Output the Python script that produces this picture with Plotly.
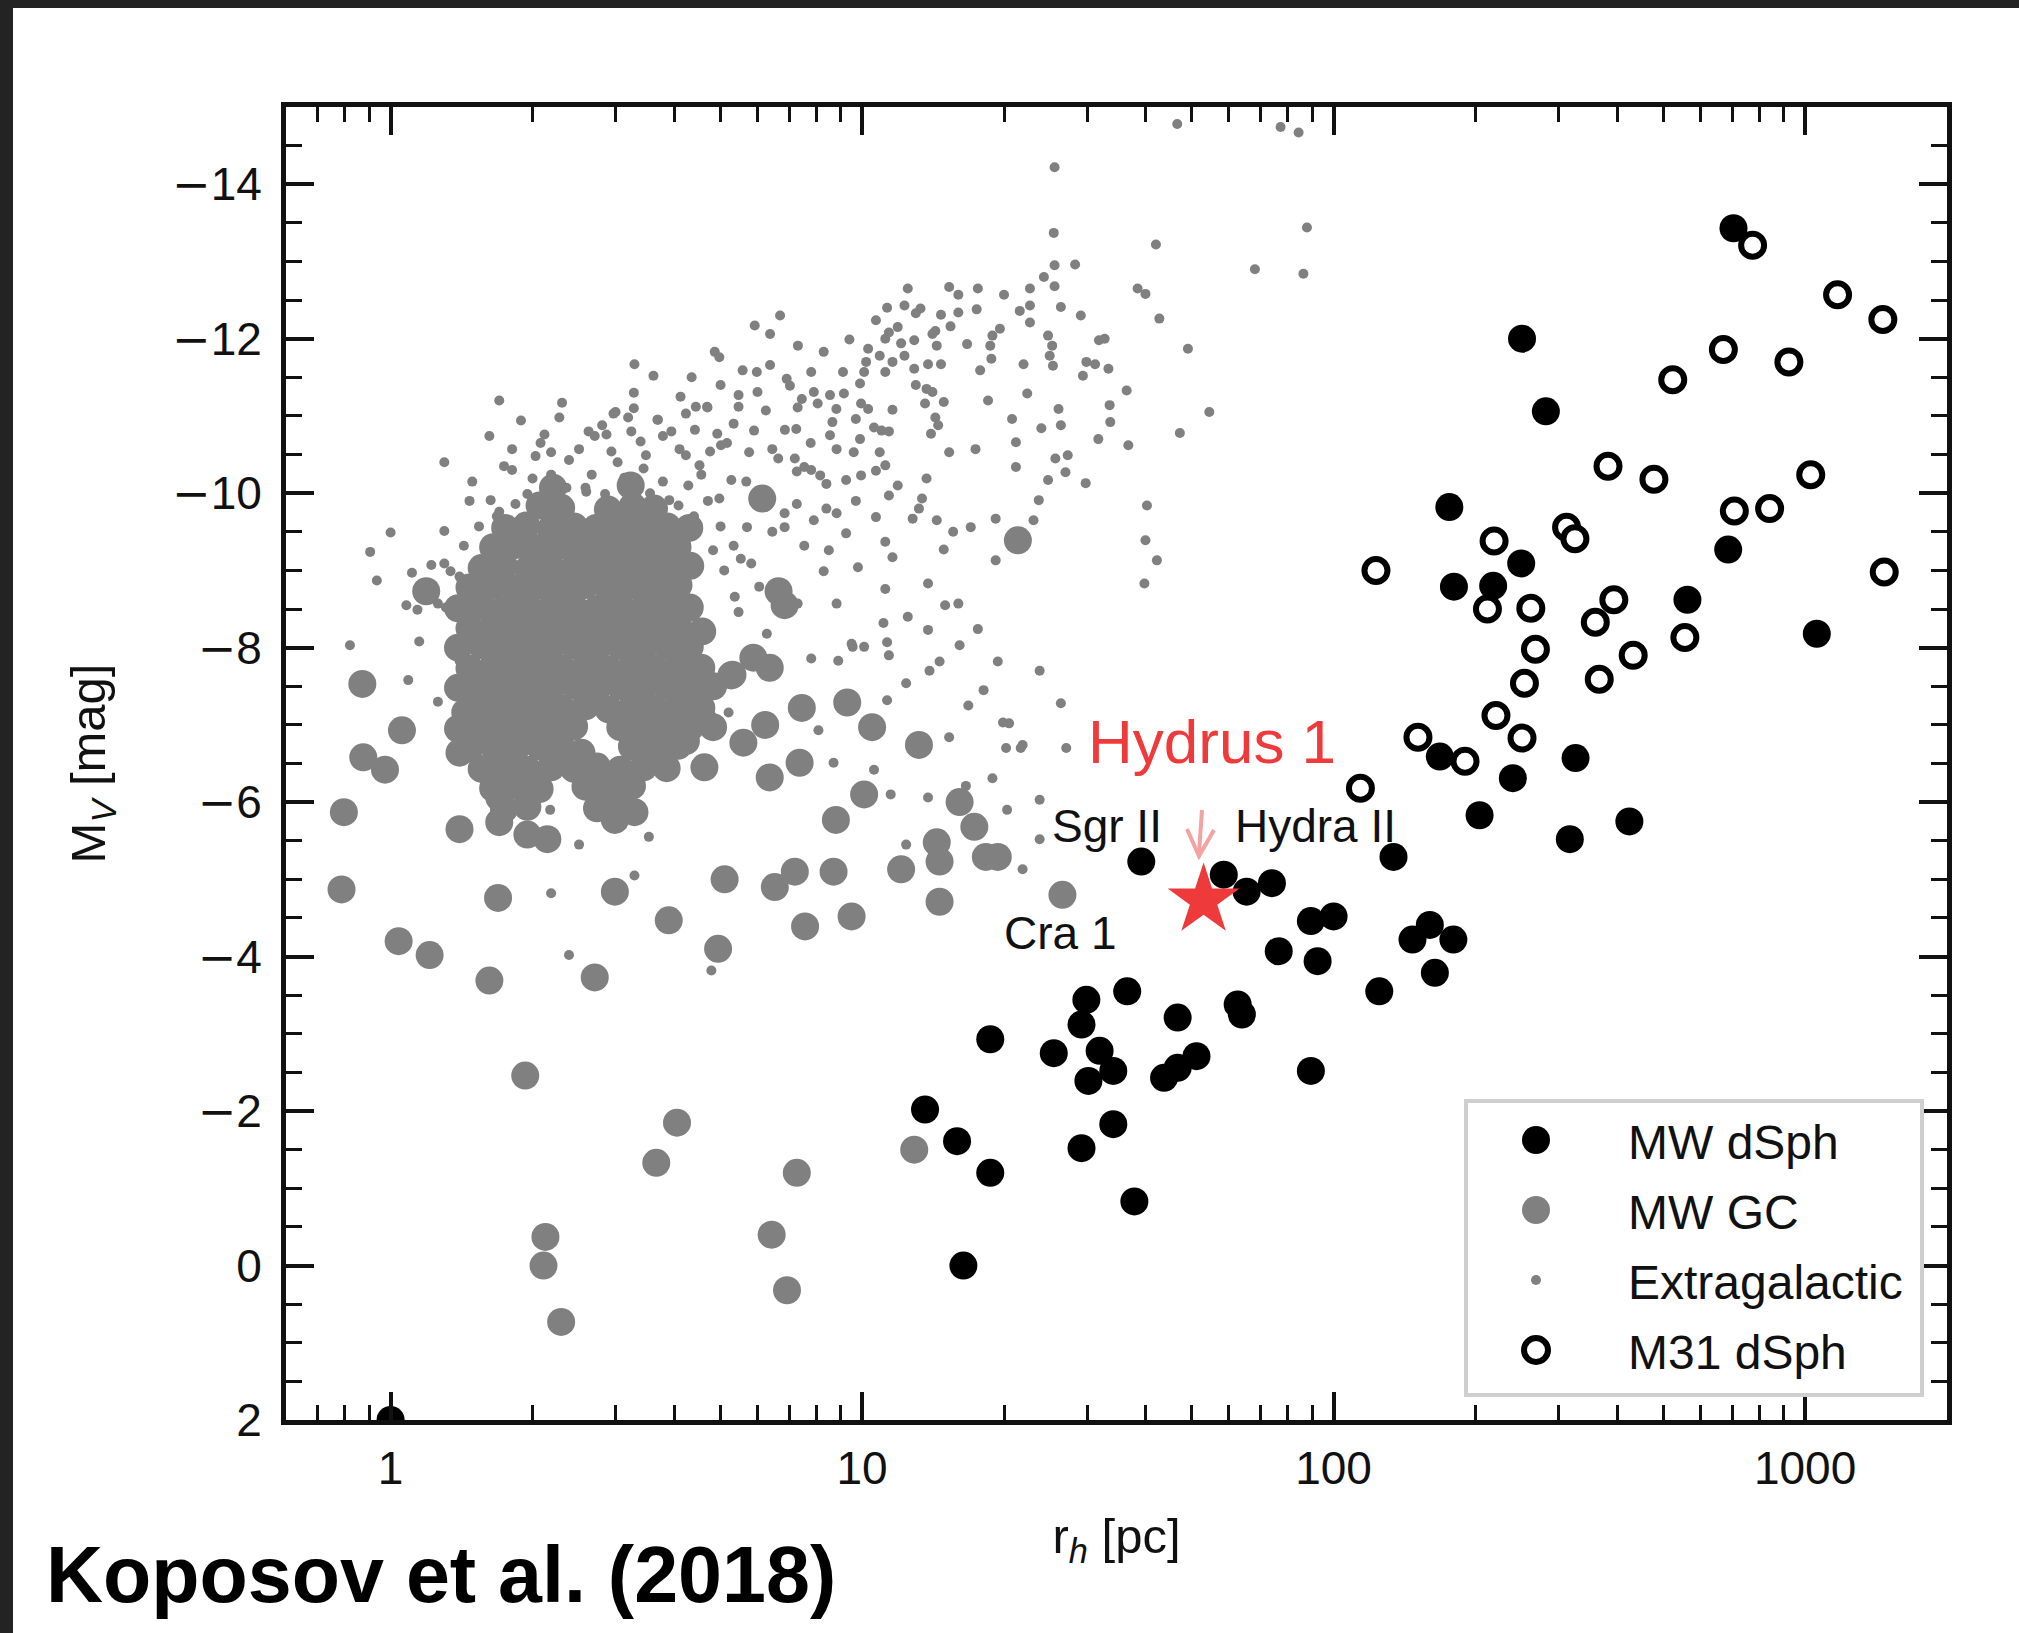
import math
import plotly.graph_objects as go

# ---------------- data ----------------
# Milky Way dwarf spheroidals: half-light radius [pc], absolute V magnitude
MW_DSPH_RH = [705, 251, 282, 176, 250, 180, 218, 687, 563, 1059, 326, 168, 240, 204, 424, 317, 134,
              39.1, 58.5, 65.4, 74.0, 89.5, 100, 76.5, 92.5, 147, 160, 179.5, 164, 125, 89.5,
              36.5, 29.9, 29.2, 46.7, 62.6, 63.9, 18.7, 25.5, 31.9, 34.1, 30.2, 43.7, 46.7, 51.2,
              13.6, 15.9, 18.7, 34.1, 29.2, 37.8, 16.4, 1.0]
MW_DSPH_MV = [-13.43, -12.0, -11.06, -9.82, -9.09, -8.79, -8.80, -9.27, -8.62, -8.18, -6.57, -6.59, -6.31, -5.83, -5.75, -5.52, -5.29,
              -5.23, -5.06, -4.84, -4.95, -4.46, -4.52, -4.07, -3.94, -4.22, -4.41, -4.22, -3.79, -3.55, -2.52,
              -3.55, -3.44, -3.12, -3.21, -3.38, -3.25, -2.93, -2.75, -2.78, -2.52, -2.39, -2.43, -2.56, -2.71,
              -2.02, -1.61, -1.20, -1.83, -1.52, -0.83, 0.0, 2.0]

# M31 dwarf spheroidals
M31_RH = [774, 1172, 1462, 671, 924, 524, 382, 478, 1028, 708, 841, 1472, 123, 219, 312, 325,
          212, 262, 393, 359, 268, 556, 432, 254, 366, 221, 251, 151, 190, 114]
M31_MV = [-13.21, -12.57, -12.25, -11.86, -11.70, -11.47, -10.35, -10.18, -10.24, -9.77, -9.80, -8.98, -9.0, -9.38, -9.56, -9.41,
          -8.50, -8.51, -8.62, -8.33, -7.98, -8.13, -7.90, -7.54, -7.59, -7.12, -6.83, -6.84, -6.53, -6.18]

# Milky Way globular clusters (isolated ones first, then the crowded clump)
MW_GC_RH = [0.871, 1.057, 0.875, 0.973, 0.796, 1.40, 1.70, 1.95, 2.15, 0.787, 1.69, 2.99, 1.04, 1.21, 1.62, 2.71,
            3.89, 4.95, 5.11, 6.53, 7.2, 7.57, 8.7, 9.5, 12.1, 14.4, 14.6, 14.6, 17.3, 18.3, 19.4, 16.1,
            10.1, 8.8, 6.37, 7.37, 9.3, 10.5, 13.2, 7.45, 6.23, 5.6, 4.63, 5.28, 6.37, 5.88, 2.99, 3.29,
            2.72, 3.14, 2.54, 1.70, 1.78, 1.40, 1.44, 1.95, 1.74, 1.93, 4.05, 3.66, 7.27, 2.13, 2.11, 2.30,
            6.43, 6.93, 12.9, 26.6, 21.4, 4.58, 5.31, 6.65, 6.14, 6.85, 1.19, 4.58, 4.23, 3.59, 1.49, 1.81, 1.87,
            2.21, 3.23,
            2.07, 2.30, 2.89, 3.26, 3.62,
            1.75, 1.94, 2.19, 2.45, 2.73, 3.08, 3.43, 3.86, 4.30,
            1.65, 1.85, 2.06, 2.32, 2.58, 2.91, 3.24, 3.64, 4.06,
            1.56, 1.74, 1.96, 2.18, 2.45, 2.75, 3.06, 3.44, 3.85, 4.32,
            1.47, 1.65, 1.84, 2.07, 2.31, 2.59, 2.90, 3.25, 3.63, 4.08,
            1.39, 1.56, 1.74, 1.95, 2.19, 2.44, 2.74, 3.07, 3.44, 3.85, 4.31,
            1.47, 1.65, 1.85, 2.06, 2.31, 2.59, 2.90, 3.25, 3.64, 4.07,
            1.39, 1.56, 1.74, 1.95, 2.19, 2.45, 2.74, 3.07, 3.44, 3.85, 4.31,
            1.47, 1.65, 1.84, 2.07, 2.31, 2.59, 2.90, 3.25, 3.64, 4.07, 4.56,
            1.39, 1.56, 1.74, 1.95, 2.19, 2.45, 2.74, 3.07, 3.44, 3.85, 4.31, 4.83,
            1.47, 1.65, 1.84, 2.07, 2.31, 2.59, 2.90, 3.25, 3.64, 4.07, 4.56,
            1.39, 1.56, 1.74, 1.95, 2.19, 2.45, 3.07, 3.44, 3.85, 4.31, 4.83,
            1.47, 1.65, 1.84, 2.07, 2.31, 3.25, 3.64, 4.07,
            1.56, 1.74, 1.95, 2.19, 2.45, 2.74, 3.07, 3.44, 3.85,
            1.65, 1.84, 2.07, 2.59, 2.90, 3.25,
            1.74, 1.95, 2.74, 3.07]
MW_GC_MV = [-7.53, -6.93, -6.58, -6.42, -5.87, -5.65, -5.74, -5.58, -5.52, -4.87, -4.76, -4.84, -4.20, -4.02, -3.69, -3.73,
            -4.47, -4.10, -5.0, -4.90, -5.10, -4.39, -5.10, -4.52, -5.13, -5.48, -5.23, -4.71, -5.68, -5.29, -5.29, -6.0,
            -6.10, -5.77, -6.32, -6.51, -7.29, -6.97, -6.74, -7.22, -7.0, -6.77, -6.45, -7.64, -7.74, -7.87, -5.77, -5.87,
            -6.27, -6.30, -6.64, -6.06, -6.64, -6.64, -7.16, -7.16, -7.74, -2.46, -1.85, -1.33, -1.20, -0.37, 0.0, 0.73,
            -0.40, 0.32, -1.50, -4.80, -9.39, -8.21, -7.65, -8.73, -9.93, -8.55, -8.73, -7.09, -6.79, -6.57, -7.43, -7.35, -7.78,
            -10.07, -10.10,
            -9.84, -9.81, -9.79, -9.83, -9.80,
            -9.55, -9.58, -9.54, -9.57, -9.55, -9.59, -9.54, -9.57, -9.55,
            -9.30, -9.33, -9.29, -9.32, -9.30, -9.33, -9.29, -9.32, -9.30,
            -9.03, -9.06, -9.02, -9.05, -9.03, -9.06, -9.02, -9.05, -9.04, -9.06,
            -8.78, -8.81, -8.77, -8.80, -8.78, -8.81, -8.77, -8.80, -8.78, -8.81,
            -8.51, -8.54, -8.50, -8.53, -8.51, -8.54, -8.50, -8.53, -8.51, -8.54, -8.52,
            -8.25, -8.28, -8.24, -8.27, -8.25, -8.28, -8.24, -8.27, -8.25, -8.28,
            -8.00, -8.03, -7.99, -8.02, -8.00, -8.03, -7.99, -8.02, -8.00, -8.03, -8.01,
            -7.73, -7.76, -7.72, -7.75, -7.73, -7.76, -7.72, -7.75, -7.73, -7.76, -7.74,
            -7.48, -7.51, -7.47, -7.50, -7.48, -7.51, -7.47, -7.50, -7.48, -7.51, -7.49, -7.50,
            -7.21, -7.24, -7.20, -7.23, -7.21, -7.24, -7.20, -7.23, -7.21, -7.24, -7.22,
            -6.95, -6.98, -6.94, -6.97, -6.95, -6.98, -6.97, -6.95, -6.98, -6.96, -6.97,
            -6.70, -6.73, -6.69, -6.72, -6.70, -6.72, -6.70, -6.73,
            -6.43, -6.46, -6.42, -6.45, -6.43, -6.46, -6.42, -6.45, -6.44,
            -6.18, -6.21, -6.17, -6.20, -6.18, -6.21,
            -5.91, -5.94, -5.92, -5.93]

# Extragalactic globular clusters
EXTRA_RH = [46.6, 77.2, 84.3, 25.6, 25.5, 42.0, 87.8, 68.1, 86.3, 25.6, 28.3, 24.3, 25.6, 15.3, 38.4, 39.9,
            42.7, 49.1, 54.5, 47.2, 40.2, 39.9, 42.2, 39.7, 19.2, 15.0, 13.8, 11.2, 9.8, 8.5, 9.25, 11.2,
            10.7, 12.8, 14.4, 15.6, 17.0, 19.2, 23.1, 23.7, 24.8, 27.0, 29.8, 25.7, 27.3, 21.2, 21.2, 20.8,
            24.0, 26.4, 26.1, 31.7, 33.6, 33.5, 36.4, 36.7, 33.3, 29.4, 29.9, 31.2, 31.8, 32.7, 29.1, 26.4,
            22.7, 22.7, 21.6, 24.8, 25.3, 25.4, 25.0, 22.0, 22.4, 18.5, 17.8, 16.7, 18.9, 19.6, 18.7, 17.5,
            16.0, 14.7, 15.4, 14.3, 14.4, 13.3, 13.0, 12.3, 12.9, 14.1, 11.9, 11.4, 11.2, 10.9, 10.3, 10.2,
            10.1, 9.9, 11.2, 11.6, 12.3, 12.9, 13.8, 14.7, 13.0, 13.7, 14.1, 13.6, 14.9, 14.3, 14.5, 14.0,
            11.6, 11.0, 11.4, 10.6, 9.9, 9.6, 10.9, 11.2, 10.7, 9.95, 9.25, 13.7, 11.9, 11.4, 13.4, 13.2,
            15.3, 17.4, 7.8, 8.55, 8.82, 7.9, 7.45, 7.3, 8.05, 9.15, 9.95, 10.3, 9.7, 8.65, 8.55, 7.25,
            5.9, 5.47, 5.47, 6.0, 5.98, 5.58, 6.38, 6.92, 7.03, 4.87, 4.98, 4.7, 5.92, 6.38, 6.7, 4.52,
            5.02, 4.93, 5.76, 5.28, 6.64, 7.2, 7.27, 7.54, 7.8, 8.15, 8.4, 4.98, 7.27, 6.85, 6.45, 6.85,
            5.7, 4.83, 5.1, 5.37, 6.05, 5.53, 5.82, 8.4, 7.9, 5.47, 1.70, 2.31, 3.29, 3.61, 4.35, 3.28,
            4.12, 3.28, 4.44, 3.0, 3.69, 2.12, 2.03, 2.19, 2.63, 2.87, 3.24, 3.94, 1.30, 1.49, 1.74, 1.0,
            1.30, 1.63, 0.905, 0.935, 1.11, 1.30, 1.08, 1.31, 0.82, 1.15, 1.09, 1.40, 1.56, 1.26, 1.40, 2.15,
            2.18, 2.51, 3.53, 3.29, 2.19, 2.39, 4.79, 5.21, 3.89, 3.18, 7.8, 8.9, 9.55, 10.1, 11.4, 12.4,
            13.9, 11.3, 8.08, 8.7, 10.6, 15.3, 16.8, 18.1, 19.9, 21.9, 18.9, 20.3, 23.8, 23.8, 21.9, 16.6,
            11.5, 13.8, 12.4, 16.1, 23.8, 26.4, 20.5, 27.1, 20.2, 21.7, 11.6, 13.8, 11.1, 9.5, 7.3, 6.28,
            14.9, 2.97, 3.68, 4.23, 4.69, 2.81, 3.39, 1.81, 2.0, 2.39, 4.23, 1.70, 1.57, 4.43,
            2.67, 3.03, 3.44, 3.78, 4.56, 2.85, 3.90, 2.36,
            1.89, 2.08, 2.28, 2.51, 2.71, 2.94, 3.19, 3.48, 3.78, 4.10, 4.42, 4.76, 5.17, 1.95, 2.19, 2.59,
            3.13, 3.55, 4.28, 4.71, 1.81, 1.62, 1.47, 1.54, 1.43, 1.34, 1.26, 1.38, 1.22, 1.14,
            5.01, 5.34, 6.25, 6.86, 6.45, 7.78, 8.83, 5.68, 6.25, 5.01, 5.34, 7.54, 8.83, 9.7, 7.31, 8.29,
            9.11, 9.4, 10.7, 12.1, 16.0, 17.6, 20.0, 22.7, 18.8, 11.3, 12.5,
            12.5, 16.0, 17.6, 11.3, 14.6, 19.4, 8.83, 8.29,
            1.84, 4.08, 2.60, 4.40, 1.68]
EXTRA_MV = [-14.78, -14.74, -14.67, -14.22, -13.37, -13.22, -13.44, -12.90, -12.84, -12.95, -12.96, -12.80, -12.68, -12.67, -12.65, -12.58,
            -12.26, -11.87, -11.05, -10.78, -9.84, -9.39, -9.13, -8.83, -9.13, -8.55, -8.83, -8.76, -9.04, -9.26, -9.48, -9.37,
            -9.69, -9.67, -9.65, -9.50, -9.56, -9.67, -9.65, -9.91, -10.17, -10.27, -10.13, -10.45, -10.49, -10.34, -10.66, -10.96,
            -10.84, -10.88, -11.09, -10.70, -10.92, -11.14, -11.33, -10.62, -11.61, -11.52, -11.70, -11.67, -11.98, -12.00, -12.30, -12.41,
            -12.21, -12.43, -12.36, -12.04, -11.91, -11.65, -11.78, -11.67, -11.29, -11.20, -11.59, -11.93, -12.04, -12.13, -11.91, -12.38,
            -12.34, -12.31, -12.16, -12.10, -11.91, -12.39, -12.33, -12.43, -11.98, -12.06, -12.15, -12.08, -12.00, -11.78, -11.87, -11.70,
            -11.57, -11.42, -11.57, -11.70, -11.78, -11.61, -11.67, -11.67, -11.40, -11.35, -11.31, -11.16, -11.18, -10.98, -10.88, -10.77,
            -11.08, -10.81, -10.80, -10.85, -10.70, -10.53, -10.53, -10.36, -10.29, -10.23, -10.17, -10.19, -10.10, -9.97, -9.93, -9.80,
            -10.53, -10.57, -11.57, -11.27, -11.09, -11.31, -11.22, -11.11, -11.16, -11.29, -11.16, -11.09, -10.96, -10.92, -10.75, -10.83,
            -10.81, -11.27, -11.12, -11.31, -11.57, -11.59, -11.66, -11.48, -11.39, -11.83, -11.76, -11.11, -12.17, -12.06, -12.30, -10.36,
            -10.62, -10.77, -10.53, -10.17, -10.45, -10.45, -10.28, -10.34, -10.30, -10.23, -10.12, -9.93, -9.86, -9.74, -9.50, -9.56,
            -9.56, -9.26, -9.00, -8.66, -8.79, -9.15, -9.09, -9.80, -9.65, -8.46, -11.20, -11.17, -11.67, -11.52, -11.50, -11.30,
            -11.25, -11.10, -11.12, -11.05, -10.95, -10.76, -10.48, -10.53, -10.80, -10.76, -10.80, -10.80, -10.40, -10.15, -10.35, -9.49,
            -9.51, -9.91, -9.24, -8.87, -8.97, -9.09, -8.55, -8.52, -8.03, -8.08, -7.58, -8.92, -8.92, -7.30, -7.83, -6.13,
            -5.90, -5.45, -5.55, -5.05, -4.82, -4.02, -3.82, -7.16, -7.06, -6.80, -7.86, -7.83, -8.01, -8.01, -7.90, -7.54,
            -7.70, -7.32, -6.93, -6.51, -6.42, -6.84, -7.25, -7.45, -7.03, -6.74, -6.31, -5.90, -6.03, -5.52, -5.13, -6.21,
            -6.10, -6.06, -5.45, -8.03, -7.70, -7.28, -7.02, -6.70, -6.70, -6.70, -9.17, -8.23, -8.32, -8.05, -8.57, -8.18,
            -9.27, -11.03, -10.95, -11.03, -11.12, -10.88, -10.67, -10.30, -10.19, -10.43, -10.49, -9.76, -8.68, -8.47,
            -10.24, -10.40, -10.32, -10.15, -10.24, -9.99, -9.91, -10.07,
            -10.94, -10.65, -10.98, -10.57, -10.74, -10.54, -10.98, -10.49, -10.74, -10.57, -10.82, -10.54, -10.65, -9.99, -10.24, -10.07,
            -10.20, -10.00, -10.10, -9.90, -10.57, -10.74, -9.90, -9.57, -9.32, -8.99, -8.57, -8.57, -9.07, -8.49,
            -11.40, -10.90, -11.07, -10.82, -10.57, -10.65, -10.57, -10.15, -9.82, -9.57, -9.32, -9.32, -9.74, -9.90, -11.91, -11.83,
            -11.57, -11.99, -12.24, -11.94, -12.57, -12.65, -12.57, -12.65, -11.74, -12.40, -12.65,
            -8.40, -8.57, -8.24, -8.07, -7.82, -7.82, -8.57, -8.99,
            -9.86, -9.84, -10.02, -9.70, -9.70]

# Hydrus 1
HYDRUS_RH = [53.0]
HYDRUS_MV = [-4.73]

X_TICKS = [1, 10, 100, 1000]
X_TICK_TEXT = ["1", "10", "100", "1000"]
Y_TICKS = [2, 0, -2, -4, -6, -8, -10, -12, -14]
LEGEND_LABELS = ["MW dSph", "MW GC", "Extragalactic", "M31 dSph"]

# ---------------- figure ----------------
FONT = "Liberation Sans, Arial, Helvetica, sans-serif"
INK = "#111111"
GRAY = "#808080"
RED = "#ee3a3a"

W, H = 2019, 1633
L, R, T, B = 286, 72, 107, 213
PW, PH = W - L - R, H - T - B


def px(xp):   # figure pixel -> paper x
    return (xp - L) / PW


def py(yp):   # figure pixel -> paper y
    return (H - B - yp) / PH


def ylab(v):
    if v < 0:
        return "<span style='font-family:DejaVu Sans'>\u2212</span>" + str(abs(v))
    return str(v)


fig = go.Figure()
fig.add_trace(go.Scatter(x=MW_GC_RH, y=MW_GC_MV, mode="markers", name="MW GC", showlegend=False,
                         marker=dict(size=28, color=GRAY, line=dict(width=0))))
fig.add_trace(go.Scatter(x=EXTRA_RH, y=EXTRA_MV, mode="markers", name="Extragalactic", showlegend=False,
                         marker=dict(size=10, color=GRAY, line=dict(width=0))))
fig.add_trace(go.Scatter(x=MW_DSPH_RH, y=MW_DSPH_MV, mode="markers", name="MW dSph", showlegend=False,
                         marker=dict(size=28, color="black", line=dict(width=0))))
fig.add_trace(go.Scatter(x=M31_RH, y=M31_MV, mode="markers", name="M31 dSph", showlegend=False,
                         marker=dict(size=23, color="white", line=dict(width=6, color="black"))))
fig.add_trace(go.Scatter(x=HYDRUS_RH, y=HYDRUS_MV, mode="markers", name="Hydrus 1", showlegend=False,
                         marker=dict(symbol="star", size=54, color=RED, line=dict(width=0))))

minor_x = [0.6, 0.7, 0.8, 0.9] + [k * 10 ** e for e in range(0, 3) for k in range(2, 10)] + [2000]

fig.update_layout(
    width=W, height=H,
    margin=dict(l=L, r=R, t=T, b=B, pad=0, autoexpand=False),
    paper_bgcolor="white", plot_bgcolor="white",
    font=dict(family=FONT, color=INK),
    showlegend=False,
    title=dict(text="<b>Koposov et al. (2018)</b>", xref="container", yref="container",
               x=46 / W, y=1 - 1574 / H, xanchor="left", yanchor="middle",
               font=dict(size=79, family=FONT, color="black")),
    xaxis=dict(type="log", range=[math.log10(0.6), math.log10(2000)],
               tickmode="array", tickvals=X_TICKS, ticktext=X_TICK_TEXT,
               ticks="inside", ticklen=28, tickwidth=4, tickcolor=INK,
               showline=True, linewidth=5, linecolor=INK, mirror="ticks",
               showgrid=False, zeroline=False,
               tickfont=dict(size=46, family=FONT, color=INK), ticklabelstandoff=4,
               title=dict(text="r<sub><i>h</i></sub> [pc]", standoff=27,
                          font=dict(size=49, family=FONT, color=INK)),
               minor=dict(tickmode="array", tickvals=minor_x, ticks="inside", ticklen=15,
                          tickwidth=3, tickcolor=INK, showgrid=False)),
    yaxis=dict(range=[2, -15], tickmode="array", tickvals=Y_TICKS, ticktext=[ylab(v) for v in Y_TICKS],
               ticks="inside", ticklen=28, tickwidth=4, tickcolor=INK,
               showline=True, linewidth=5, linecolor=INK, mirror="ticks",
               showgrid=False, zeroline=False,
               tickfont=dict(size=46, family=FONT, color=INK), ticklabelstandoff=10,
               title=dict(text="M<sub><i>V</i></sub> [mag]", standoff=52,
                          font=dict(size=49, family=FONT, color=INK)),
               minor=dict(tickmode="linear", tick0=0, dtick=0.5, ticks="inside", ticklen=16,
                          tickwidth=3, tickcolor=INK, showgrid=False)),
)

shapes = []
# dark frame bands (top and left)
shapes.append(dict(type="rect", xref="paper", yref="paper", x0=px(-20), x1=px(W + 20), y0=py(8), y1=py(-20),
                   fillcolor="#232323", line=dict(width=0), layer="above"))
shapes.append(dict(type="rect", xref="paper", yref="paper", x0=px(-20), x1=px(13), y0=py(H + 20), y1=py(-20),
                   fillcolor="#232323", line=dict(width=0), layer="above"))
# arrow pointing at Hydrus 1
ARROW = "#f4a3a3"
shapes.append(dict(type="line", xref="paper", yref="paper", x0=px(1202), y0=py(810), x1=px(1199), y1=py(853),
                   line=dict(color=ARROW, width=4), layer="above"))
shapes.append(dict(type="path", xref="paper", yref="paper",
                   path="M {:.5f},{:.5f} L {:.5f},{:.5f} L {:.5f},{:.5f}".format(
                       px(1187), py(829), px(1199), py(856), px(1214), py(830)),
                   line=dict(color=ARROW, width=4), layer="above"))
# legend frame
shapes.append(dict(type="rect", xref="paper", yref="paper", x0=px(1466), x1=px(1922), y0=py(1395), y1=py(1101),
                   fillcolor="white", line=dict(color="#cfcfcf", width=4), layer="above"))
leg_y = [1140, 1210, 1280, 1350]
leg_x = 1536
leg_style = [
    dict(r=14, fill="black", lc="black", lw=0),
    dict(r=14, fill=GRAY, lc=GRAY, lw=0),
    dict(r=5, fill=GRAY, lc=GRAY, lw=0),
    dict(r=12, fill="white", lc="black", lw=6),
]
for yy, st in zip(leg_y, leg_style):
    shapes.append(dict(type="circle", xref="paper", yref="paper", xsizemode="pixel", ysizemode="pixel",
                       xanchor=px(leg_x), yanchor=py(yy), x0=-st["r"], x1=st["r"], y0=-st["r"], y1=st["r"],
                       fillcolor=st["fill"], line=dict(color=st["lc"], width=st["lw"]), layer="above"))
fig.update_layout(shapes=shapes)

ann = []
for yy, lab in zip(leg_y, LEGEND_LABELS):
    ann.append(dict(xref="paper", yref="paper", x=px(1626), y=py(yy + 2), xanchor="left", yanchor="middle",
                    text=lab, showarrow=False, font=dict(size=48, family=FONT, color=INK)))
# object labels
ann.append(dict(x=math.log10(55.3), y=-6.78, text="Hydrus 1", showarrow=False,
                font=dict(size=62, family=FONT, color=RED), xanchor="center", yanchor="middle"))
ann.append(dict(x=math.log10(33.0), y=-5.69, text="Sgr II", showarrow=False,
                font=dict(size=46, family=FONT, color=INK), xanchor="center", yanchor="middle"))
ann.append(dict(x=math.log10(91.4), y=-5.69, text="Hydra II", showarrow=False,
                font=dict(size=46, family=FONT, color=INK), xanchor="center", yanchor="middle"))
ann.append(dict(x=math.log10(26.3), y=-4.31, text="Cra 1", showarrow=False,
                font=dict(size=46, family=FONT, color=INK), xanchor="center", yanchor="middle"))
fig.update_layout(annotations=ann)

fig.write_html("out.html")
